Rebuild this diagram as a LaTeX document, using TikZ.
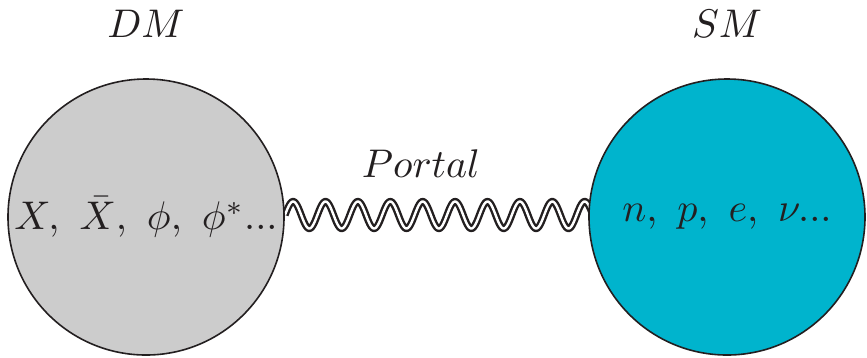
\documentclass[tikz,border=0pt]{standalone}
\usetikzlibrary{backgrounds}
\definecolor{dmgray}{RGB}{204,204,204}
\definecolor{smcyan}{RGB}{0,180,205}
\definecolor{inkgray}{RGB}{35,31,32}
\begin{document}
\begin{tikzpicture}[x=0.25pt,y=-0.25pt,
  ball/.style={circle,draw=inkgray,line width=0.4pt,minimum size=69pt,inner sep=0pt},
  lbl/.style={inner sep=0pt,font=\normalsize,text=inkgray},
  wave/.style={draw=inkgray,line width=0.6pt,double=white,double distance=0.6pt}]
\useasboundingbox (0,0) rectangle (867,357);
\node[ball,fill=dmgray] (dm) at (146,217) {};
\node[ball,fill=smcyan] (sm) at (727,217) {};
\node[lbl] (dmtext) at (dm.center) {$X,\ \bar{X},\ \phi,\ \phi^*...$};
\node[lbl] (smtext) at (sm.center) {$n,\ p,\ e,\ \nu...$};
\node[lbl,anchor=base] (dmlabel) at (146,37) {$DM$};
\node[lbl,anchor=base] (smlabel) at (727,37) {$SM$};
\node[lbl,anchor=base] (portal) at (421,177) {$Portal$};
\coordinate (w1) at (dm.east);
\coordinate (w2) at (sm.west);
\begin{scope}[on background layer]
\draw[wave] plot[domain=285:592,samples=400] (\x,{215-13.5*sin((\x-285)/32.4*360)});
\end{scope}
\end{tikzpicture}
\end{document}
